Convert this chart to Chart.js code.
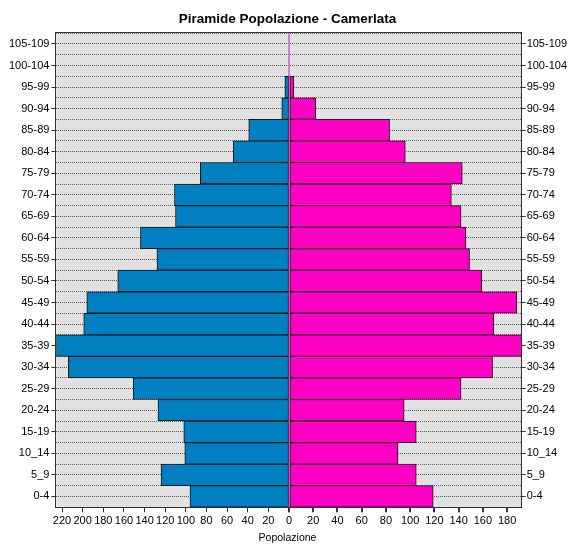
<!DOCTYPE html>
<html>
<head>
<meta charset="utf-8">
<script src="https://cdn.jsdelivr.net/npm/chart.js@4.4.1/dist/chart.umd.min.js"></script>
<style>html,body{margin:0;padding:0;background:#fff}canvas{display:block}</style>
</head>
<body>
<canvas id="c" width="568" height="544"></canvas>
<script>
const ageGroups = ['0-4','5_9','10_14','15-19','20-24','25-29','30-34','35-39','40-44','45-49','50-54','55-59','60-64','65-69','70-74','75-79','80-84','85-89','90-94','95-99','100-104','105-109'];
const males   = [96,124,101,102,127,151,214,226,199,196,166,128,144,110,111,86,54,39,7,4,0,0];
const females = [119,105,90,105,95,142,168,193,169,188,159,149,146,142,134,143,96,83,22,4,0,0];
const chartTitle = 'Piramide Popolazione - Camerlata';
const axisTitle = 'Popolazione';
const maleMax = 225.5;
const femaleMax = 192;

const FONT = 'Liberation Sans, Arial, sans-serif';

const plotFrame = {
  id: 'plotFrame',
  beforeDraw(chart) {
    const {ctx, chartArea: a} = chart;
    ctx.save();
    ctx.fillStyle = '#e1e1e1';
    ctx.fillRect(a.left, a.top, a.right - a.left, a.bottom - a.top);
    ctx.restore();
  },
  afterDatasetsDraw(chart) {
    const {ctx, chartArea: a} = chart;
    ctx.save();
    ctx.strokeStyle = '#333';
    ctx.lineWidth = 1;
    ctx.strokeRect(Math.round(a.left) - 0.5, Math.round(a.top) - 0.5, Math.round(a.right - a.left) + 1, Math.round(a.bottom - a.top) + 1);
    ctx.restore();
  }
};

const tickFont = {family: FONT, size: 11};

new Chart(document.getElementById('c'), {
  type: 'bar',
  data: {
    labels: ageGroups,
    datasets: [
      {label: 'Maschi', data: males, xAxisID: 'xM', yAxisID: 'y', backgroundColor: '#0080c0', borderColor: '#111', borderWidth: 1, borderSkipped: false, grouped: false, barPercentage: 1, categoryPercentage: 1},
      {label: 'Femmine', data: females, xAxisID: 'xF', yAxisID: 'y', backgroundColor: '#ff00c4', borderColor: '#2a0020', borderWidth: 1, borderSkipped: false, grouped: false, barPercentage: 1, categoryPercentage: 1}
    ]
  },
  options: {
    indexAxis: 'y',
    responsive: false,
    animation: false,
    layout: {padding: {left: 7, right: 0, top: 0, bottom: 0}},
    plugins: {
      legend: {display: false},
      tooltip: {enabled: false},
      title: {display: true, text: chartTitle, color: '#000', font: {family: FONT, size: 13.5, weight: 'bold'}, padding: {top: 11, bottom: 6}},
      subtitle: {display: true, position: 'bottom', text: axisTitle, color: '#000', font: {family: FONT, size: 10.5}, padding: {top: 2, bottom: 0}}
    },
    scales: {
      y: {
        type: 'category', position: 'left', reverse: true, offset: true,
        grid: {offset: false, color: '#555', lineWidth: 1, drawTicks: true, tickLength: 5, tickColor: '#333', tickBorderDash: []},
        border: {display: false, dash: [1, 1]},
        ticks: {color: '#000', font: tickFont, padding: 2, autoSkip: false}
      },
      y2: {
        type: 'category', position: 'right', reverse: true, offset: true,
        grid: {offset: false, drawOnChartArea: false, drawTicks: true, tickLength: 4, tickColor: '#333'},
        border: {display: false},
        ticks: {color: '#000', font: tickFont, padding: 1, autoSkip: false}
      },
      yb: {
        type: 'category', position: 'left', reverse: true, offset: true,
        grid: {offset: true, color: '#666', lineWidth: 1, drawTicks: false},
        border: {display: false, dash: [1, 1]},
        ticks: {display: false}
      },
      xM: {
        type: 'linear', position: 'bottom', stack: 'pop', stackWeight: 1, weight: 0, reverse: true,
        min: 0, max: maleMax,
        grid: {drawOnChartArea: false, tickLength: 5, tickColor: '#333'},
        border: {display: false},
        ticks: {stepSize: 20, includeBounds: false, autoSkip: false, maxRotation: 0, color: '#000', font: tickFont, padding: 2}
      },
      xF: {
        type: 'linear', position: 'bottom', stack: 'pop', stackWeight: 1, weight: 1,
        min: 0, max: femaleMax,
        grid: {drawOnChartArea: true, lineWidth: 2, color: c => (c.tick && c.tick.value === 0) ? '#d878d8' : 'rgba(0,0,0,0)', tickLength: 5, tickColor: '#333'},
        border: {display: false},
        ticks: {stepSize: 20, includeBounds: false, autoSkip: false, maxRotation: 0, color: '#000', font: tickFont, padding: 2, callback: v => v === 0 ? '' : v}
      }
    }
  },
  plugins: [plotFrame]
});
</script>
</body>
</html>
